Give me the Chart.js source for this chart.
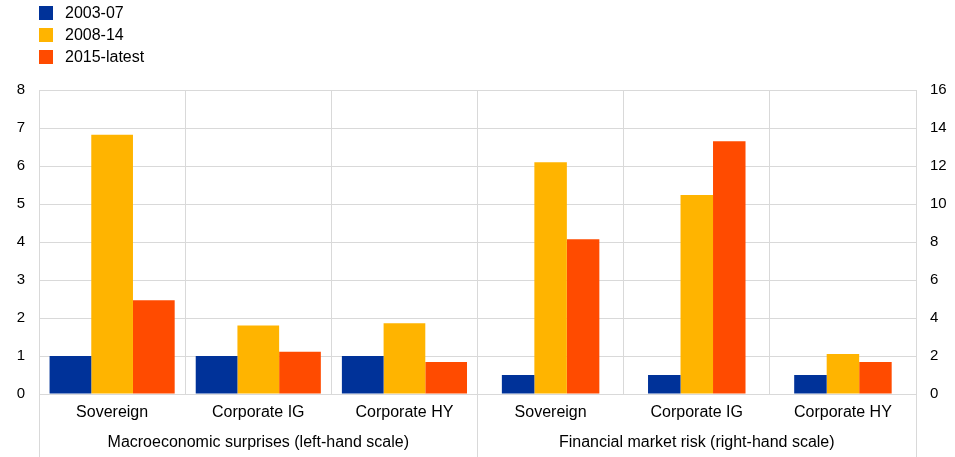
<!DOCTYPE html>
<html>
<head>
<meta charset="utf-8">
<script src="https://cdn.jsdelivr.net/npm/chart.js@4/dist/chart.umd.min.js"></script>
<style>
  html, body { margin: 0; padding: 0; background: #fff; }
  #wrap { position: relative; width: 955px; height: 457px; }
  #legend { position: absolute; left: 39px; top: 2px; font: 16px "Liberation Sans", Arial, sans-serif; color: #000; }
  .item { height: 22px; display: flex; align-items: center; }
  .box { width: 14px; height: 14px; margin-right: 12px; }
</style>
</head>
<body>
<div id="wrap">
  <canvas id="chart" width="955" height="457"></canvas>
  <div id="legend"></div>
</div>
<script>
const categories = ['Sovereign', 'Corporate IG', 'Corporate HY', 'Sovereign', 'Corporate IG', 'Corporate HY'];
const groupLabels = ['Macroeconomic surprises (left-hand scale)', 'Financial market risk (right-hand scale)'];
const periods = ['2003-07', '2008-14', '2015-latest'];
const colors = ['#003299', '#FFB400', '#FF4B00'];

// left-hand scale (macro surprises), right-hand scale (financial market risk)
const macro2003 = [1, 1, 1];
const macro2008 = [6.82, 1.8, 1.86];
const macro2015 = [2.47, 1.11, 0.84];
const fin2003 = [1, 1, 1];
const fin2008 = [12.2, 10.48, 2.1];
const fin2015 = [8.14, 13.3, 1.68];

const leftTicks = [0, 1, 2, 3, 4, 5, 6, 7, 8];
const rightTicks = [0, 2, 4, 6, 8, 10, 12, 14, 16];

const macroSeries = [macro2003, macro2008, macro2015];
const finSeries = [fin2003, fin2008, fin2015];

const datasets = [];
periods.forEach((p, i) => {
  datasets.push({
    label: p,
    data: macroSeries[i].concat([null, null, null]),
    backgroundColor: colors[i],
    yAxisID: 'y',
    categoryPercentage: 0.856,
    barPercentage: 1
  });
});
periods.forEach((p, i) => {
  datasets.push({
    label: p,
    data: [null, null, null].concat(finSeries[i]),
    backgroundColor: colors[i],
    yAxisID: 'y2',
    categoryPercentage: 0.667,
    barPercentage: 1
  });
});

const legend = document.getElementById('legend');
periods.forEach((p, i) => {
  const row = document.createElement('div');
  row.className = 'item';
  row.innerHTML = `<span class="box" style="background:${colors[i]}"></span><span>${p}</span>`;
  legend.appendChild(row);
});

Chart.defaults.font.family = '"Liberation Sans", Arial, sans-serif';
Chart.defaults.font.size = 15;
Chart.defaults.color = '#000';

const gridColor = '#d9d9d9';
const clear = 'rgba(0,0,0,0)';

// vertical separators between the two groups, running down through the axis labels
const groupDividers = {
  id: 'groupDividers',
  afterDraw(chart) {
    const x = chart.scales.x;
    const step = x.width / categories.length;
    const perGroup = categories.length / groupLabels.length;
    const ctx = chart.ctx;
    ctx.save();
    ctx.strokeStyle = gridColor;
    ctx.lineWidth = 1;
    for (let g = 0; g <= groupLabels.length; g++) {
      const px = Math.round(x.left + g * perGroup * step - 0.5) + 0.5;
      ctx.beginPath();
      ctx.moveTo(px, chart.chartArea.bottom);
      ctx.lineTo(px, chart.height);
      ctx.stroke();
    }
    ctx.restore();
  }
};

new Chart(document.getElementById('chart').getContext('2d'), {
  type: 'bar',
  data: { labels: categories, datasets },
  options: {
    responsive: false,
    animation: false,
    datasets: { bar: { skipNull: true } },
    layout: { padding: { top: 90, left: 16.7, right: 8.3, bottom: 2.6 } },
    plugins: { legend: { display: false }, tooltip: { enabled: false } },
    scales: {
      x: {
        type: 'category',
        offset: true,
        grid: { offset: true, color: gridColor, drawTicks: false },
        border: { display: true, color: gridColor },
        ticks: { padding: 9, autoSkip: false, maxRotation: 0, font: { size: 16 } }
      },
      x2: {
        type: 'category',
        labels: groupLabels,
        position: 'bottom',
        weight: 1,
        offset: true,
        grid: { display: false, drawTicks: false },
        border: { display: false },
        ticks: { padding: 2, autoSkip: false, maxRotation: 0, font: { size: 16 } }
      },
      y: {
        position: 'left',
        min: 0,
        max: 8,
        afterBuildTicks: s => { s.ticks = leftTicks.map(v => ({ value: v })); },
        grid: { color: gridColor, tickLength: 14, tickColor: clear },
        border: { display: false },
        ticks: { padding: 0 }
      },
      y2: {
        position: 'right',
        min: 0,
        max: 16,
        afterBuildTicks: s => { s.ticks = rightTicks.map(v => ({ value: v })); },
        grid: { drawOnChartArea: false, tickLength: 14, color: clear, tickColor: clear },
        border: { display: false },
        ticks: { padding: 0 }
      }
    }
  },
  plugins: [groupDividers]
});
</script>
</body>
</html>
